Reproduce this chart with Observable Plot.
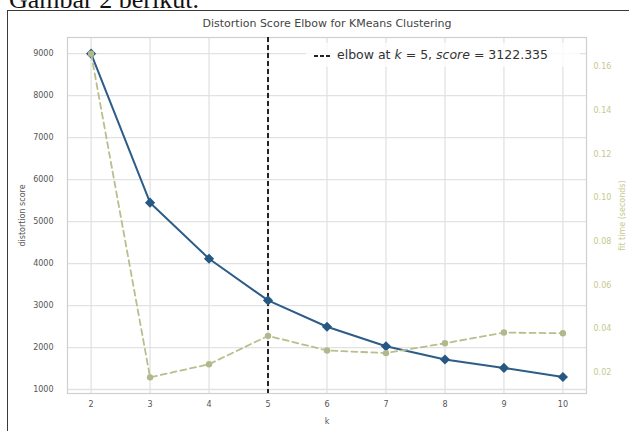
<!DOCTYPE html>
<html><head><meta charset="utf-8">
<script src="https://cdn.jsdelivr.net/npm/d3@7"></script>
<script src="https://cdn.jsdelivr.net/npm/@observablehq/plot@0.6"></script>
<style>
body{margin:0;background:#fff;}
#wrap{position:relative;width:629px;height:431px;overflow:hidden;background:#fff;}
#wrap svg{position:absolute;left:0;top:0;}
#caption{position:absolute;left:9px;top:-13px;font-family:"Liberation Serif",serif;font-size:26px;line-height:26px;color:#111;white-space:nowrap;}
#border{position:absolute;left:7px;top:10px;width:700px;height:500px;border-top:1.6px solid #3a3a3a;border-left:1.6px solid #3a3a3a;}
#title{position:absolute;left:0;width:654px;top:17px;text-align:center;font-family:"DejaVu Sans",sans-serif;font-size:11px;line-height:14px;color:#444;}
#legend{position:absolute;left:306px;top:43px;width:274px;height:24px;background:rgba(255,255,255,0.8);font-family:"DejaVu Sans",sans-serif;font-size:12.5px;line-height:24px;color:#333;white-space:nowrap;z-index:5;}
#legend svg{position:static;vertical-align:middle;margin-left:8px;margin-right:5px;}
</style></head><body>
<div id="wrap">
  <div id="caption"></div>
  <div id="border"></div>
</div>
<script>
// ---- data ----
const kValues = [2, 3, 4, 5, 6, 7, 8, 9, 10];
const distortion = [9000, 5450, 4115, 3122.335, 2495, 2030, 1715, 1513, 1298];
const fitTime = [0.166, 0.0178, 0.0238, 0.0368, 0.0301, 0.0289, 0.0334, 0.0383, 0.0380];
const yTicks = [1000, 2000, 3000, 4000, 5000, 6000, 7000, 8000, 9000];
const fitTicks = [0.02, 0.04, 0.06, 0.08, 0.10, 0.12, 0.14, 0.16];
const elbowK = 5;
const elbowScore = 3122.335;
const captionText = "Gambar 2 berikut.";
const titleText = "Distortion Score Elbow for KMeans Clustering";
const yLabel = "distortion score";
const y2Label = "fit time (seconds)";
const xLabel = "k";

const rows = kValues.map((k, i) => ({k, d: distortion[i], t: fitTime[i]}));

const W = 629, H = 431, mL = 67, mR = 43, mT = 37, mB = 38;
const common = {width: W, height: H, marginLeft: mL, marginRight: mR, marginTop: mT, marginBottom: mB};

const p1 = Plot.plot({
  ...common,
  style: {fontFamily: "DejaVu Sans", fontSize: "8px", background: "transparent", color: "#555"},
  x: {domain: [1.6, 10.4]},
  y: {domain: [905, 9385]},
  marks: [
    Plot.gridX(kValues, {stroke: "#e2e2e2", strokeOpacity: 1, strokeWidth: 1.3}),
    Plot.gridY(yTicks, {stroke: "#e2e2e2", strokeOpacity: 1, strokeWidth: 1.3}),
    Plot.frame({stroke: "#cfcfcf", strokeWidth: 1.2}),
    Plot.axisX(kValues, {tickSize: 0, tickPadding: 8, label: xLabel, labelAnchor: "center", labelOffset: 30, labelArrow: "none"}),
    Plot.axisY(yTicks, {tickSize: 0, tickPadding: 14, tickFormat: d => String(d), label: yLabel, labelAnchor: "center", labelOffset: 48, labelArrow: "none"}),
    Plot.ruleX([elbowK], {stroke: "#222", strokeWidth: 2, strokeDasharray: "5,3"}),
    Plot.line(rows, {x: "k", y: "d", stroke: "#2c5c88", strokeWidth: 2}),
    Plot.dot(rows, {x: "k", y: "d", symbol: "diamond2", r: 4.6, fill: "#265883", stroke: "none"})
  ]
});

const p2 = Plot.plot({
  ...common,
  style: {fontFamily: "DejaVu Sans", fontSize: "8px", background: "transparent", color: "#bfc78a"},
  x: {domain: [1.6, 10.4], axis: null},
  y: {domain: [0.0104, 0.1734]},
  marks: [
    Plot.axisY(fitTicks, {anchor: "right", tickSize: 0, tickPadding: 7, tickFormat: d3.format(".2f"), fill: "#c3ca8c",
      label: y2Label, labelAnchor: "center", labelOffset: 38, labelArrow: "none"}),
    Plot.line(rows, {x: "k", y: "t", stroke: "#b9be8c", strokeWidth: 1.8, strokeDasharray: "6,4"}),
    Plot.dot(rows, {x: "k", y: "t", r: 3.2, fill: "#b3b78c", stroke: "none"})
  ]
});

const wrap = document.getElementById("wrap");
document.getElementById("caption").textContent = captionText;
wrap.appendChild(p1);
wrap.appendChild(p2);

const title = document.createElement("div");
title.id = "title";
title.textContent = titleText;
wrap.appendChild(title);

const legend = document.createElement("div");
legend.id = "legend";
legend.innerHTML = '<svg width="18" height="6"><line x1="0" y1="3" x2="18" y2="3" stroke="#222" stroke-width="2" stroke-dasharray="4,2"/></svg>'
  + 'elbow at <i>k</i> = ' + elbowK + ', <i>score</i> = ' + elbowScore;
wrap.appendChild(legend);
</script>
</body></html>
